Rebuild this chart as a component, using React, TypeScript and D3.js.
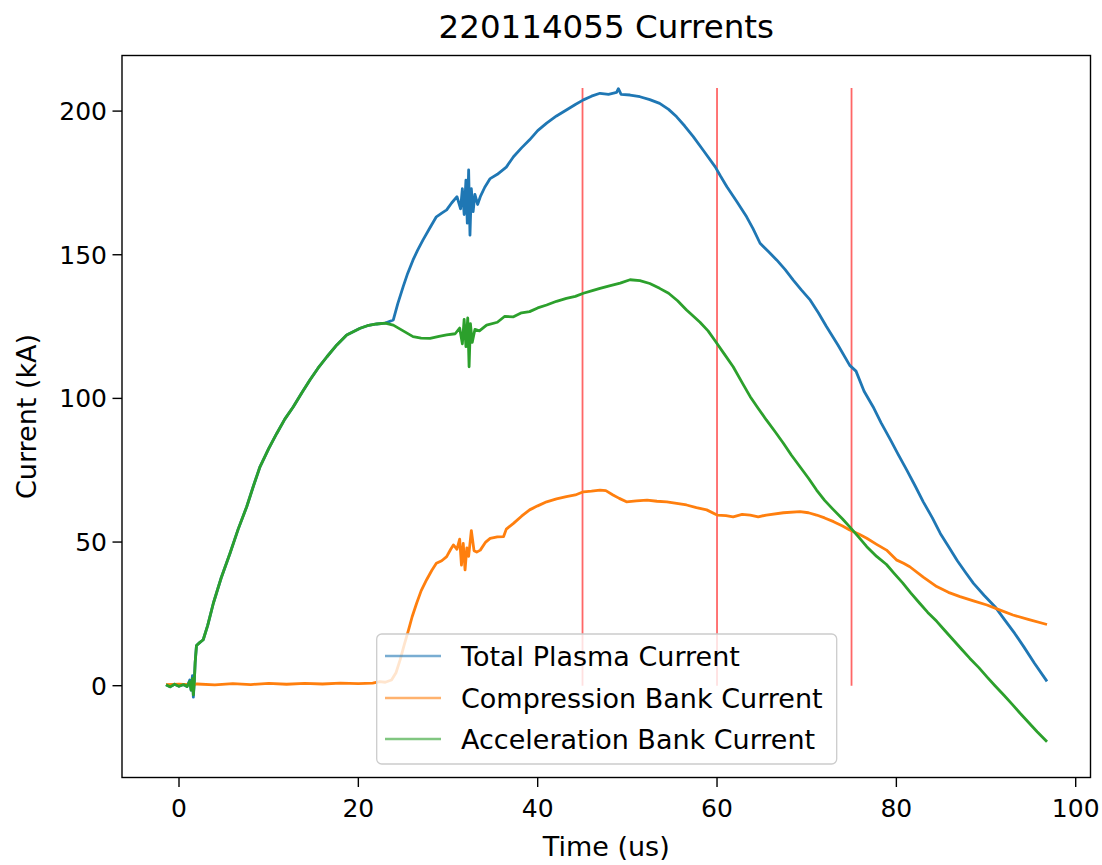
import React from "react";
import * as d3 from "d3";

const title = "220114055 Currents";
const xLabel = "Time (us)";
const yLabel = "Current (kA)";
const xTicks = [0, 20, 40, 60, 80, 100];
const yTicks = [0, 50, 100, 150, 200];
const markerTimes = [45, 60, 75];
const markerTop = 208;

const seriesNames = ["Total Plasma Current", "Compression Bank Current", "Acceleration Bank Current"];
const seriesColors = ["#1f77b4", "#ff7f0e", "#2ca02c"];

const acceleration: [number, number][] = [
  [-1.45, 0.3], [-1.0, -0.4], [-0.5, 0.5], [0, -0.2], [0.5, 0.4], [0.9, -0.3], [1.2, 1.5], [1.35, -1.5],
  [1.5, 2.5], [1.6, -3.2], [1.7, 1.0], [1.8, 8], [1.95, 14], [2.3, 15], [2.7, 16], [3.2, 21], [3.83, 28.7],
  [4.7, 37.5], [5.69, 46.1], [6.6, 54.5], [7.55, 62.3], [8.3, 69.5], [9.03, 76.2], [10.0, 82.5], [10.9, 87.8],
  [11.8, 92.8], [12.75, 97.1], [13.7, 102], [14.6, 106.4], [15.5, 110.5], [16.5, 114.5], [17.6, 118.6],
  [18.7, 122.1], [20.2, 124.4], [21.0, 125.3], [22.05, 125.9], [23.0, 126.2], [23.9, 125.5], [25.0, 123.5],
  [26.1, 121.5], [27.0, 121], [28, 120.9], [29, 121.6], [29.85, 122.1], [30.8, 122.5], [31.3, 124.5],
  [31.6, 119], [31.8, 127.5], [32.0, 118], [32.2, 128], [32.35, 111], [32.5, 126], [32.7, 119.5], [33.0, 124],
  [33.5, 123.5], [34.3, 125.5], [35.5, 126.5], [36.3, 128.5], [37.3, 128.4], [38.2, 129.8], [39.1, 130.2],
  [40.0, 131.5], [41, 132.5], [42.1, 133.8], [43.2, 134.8], [44.2, 135.5], [45.1, 136.6], [46.0, 137.4],
  [46.95, 138.3], [48.0, 139.2], [49.2, 140.1], [50.3, 141.3], [51.4, 141], [52.5, 140], [53.6, 138.3],
  [54.6, 136.6], [55.6, 134], [56.6, 130.8], [57.4, 128.5], [58.1, 126.5], [59.0, 123.5], [59.8, 120],
  [60.8, 115.5], [61.8, 111], [62.8, 105.5], [63.7, 100.6], [64.6, 96.5], [65.5, 92.5], [66.5, 88.3],
  [67.4, 84.4], [68.3, 80.2], [69.25, 76.2], [70.2, 72.2], [71.1, 68.1], [72.0, 64.5], [73, 61.2], [74.0, 58],
  [74.8, 55.3], [75.8, 51.7], [76.7, 48.4], [77.8, 45], [78.9, 42.2], [79.7, 39.3], [80.7, 35.8], [81.6, 32.3],
  [82.6, 28.7], [83.5, 25.5], [84.5, 22.4], [85.4, 19.2], [86.35, 15.9], [87.3, 12.6], [88.2, 9.5], [89.2, 6.3],
  [90.1, 3.1], [91.0, 0], [92.0, -3.3], [92.9, -6.4], [93.8, -9.6], [94.8, -13], [95.7, -16], [96.8, -19.5],
];

const totalPlasma: [number, number][] = [
  [-1.45, 0.3], [-1.0, -0.4], [-0.5, 0.5], [0, -0.2], [0.5, 0.4], [0.9, -0.3], [1.2, 2.0], [1.35, -1.5],
  [1.5, 3.5], [1.6, -4.0], [1.7, 1.0], [1.8, 8], [1.95, 14], [2.3, 15], [2.7, 16], [3.2, 21], [3.83, 28.7],
  [4.7, 37.5], [5.69, 46.1], [6.6, 54.5], [7.55, 62.3], [8.3, 69.5], [9.03, 76.2], [10.0, 82.5], [10.9, 87.8],
  [11.8, 92.8], [12.75, 97.1], [13.7, 102], [14.6, 106.4], [15.5, 110.5], [16.5, 114.5], [17.6, 118.6],
  [18.7, 122.1], [20.2, 124.4], [21.0, 125.3], [22.05, 125.9], [23.0, 126.2], [23.9, 127.3], [24.4, 133],
  [25.0, 138.9], [25.5, 143.5], [26.1, 148.2], [26.6, 151.5], [27.2, 155.1], [28.0, 159.5], [28.7, 163.2],
  [29.3, 164.5], [29.85, 165.6], [30.4, 168], [31.0, 170.2], [31.4, 166], [31.6, 173], [31.8, 164], [32.0, 176],
  [32.15, 161], [32.3, 179.5], [32.45, 156.8], [32.6, 173], [32.8, 165], [33.0, 171], [33.3, 167.5],
  [33.6, 170.2], [34.1, 173.5], [34.7, 176.5], [35.5, 178], [36.5, 180.5], [37.3, 184.1], [38.2, 187.2],
  [39.1, 190], [40.0, 193.2], [41, 195.8], [42.1, 198.3], [43.2, 200.4], [44.2, 202.3], [45.1, 203.9],
  [46.0, 205.2], [46.95, 206.2], [47.9, 205.8], [48.8, 206.5], [49.0, 207.8], [49.3, 205.8], [50.3, 205.6],
  [51.4, 205], [52.5, 204], [53.6, 202.7], [54.6, 200.6], [55.5, 198], [56.4, 194.8], [57.35, 191.1],
  [58.5, 186.2], [59.8, 180.6], [60.4, 177.3], [61.1, 173.7], [62.2, 168.5], [63.3, 163.2], [64.0, 159.2],
  [64.8, 154], [65.7, 151.2], [66.65, 148.2], [67.6, 144.8], [68.5, 141.2], [69.4, 137.8], [70.4, 134.2],
  [71.3, 129.8], [72.2, 125], [73.5, 118.5], [74.8, 111.5], [75.5, 109.5], [76.4, 102.5], [77.4, 97.1],
  [78.3, 91.5], [79.3, 85.8], [80.2, 80.5], [81.15, 75.1], [82.1, 69.5], [83.0, 64], [84.0, 58.5], [84.9, 53],
  [85.9, 48], [86.8, 43.5], [87.7, 39.5], [88.6, 35.6], [89.8, 31.4], [91, 27.5], [92.1, 22.8], [93.2, 18.2],
  [94.2, 13.6], [95.4, 7.8], [96.8, 1.5],
];

const compression: [number, number][] = [
  [-1.45, 0.4], [0, 0.5], [1.6, 0.3], [2.0, 0.6], [4, 0.3], [6, 0.7], [8, 0.4], [10, 0.8], [12, 0.5], [14, 0.8],
  [16, 0.6], [18, 0.9], [20, 0.7], [21.6, 0.9], [22.4, 1.4], [23.0, 1.2], [23.7, 2], [24.2, 4.5], [24.65, 8.9],
  [25.1, 14], [25.6, 19.4], [26.0, 24], [26.5, 28.7], [27.0, 33], [27.6, 36.8], [28.2, 40.2], [28.7, 42.6],
  [29.3, 43.5], [29.85, 44.9], [30.3, 47.5], [30.6, 49], [31.0, 47.5], [31.3, 51], [31.5, 42], [31.7, 49.5],
  [31.9, 40.3], [32.1, 48], [32.3, 45], [32.6, 54], [32.9, 47], [33.2, 46.5], [33.6, 47.2], [34.2, 50],
  [34.7, 51.3], [35.5, 51.8], [36.2, 51.9], [36.5, 54.5], [37.3, 56.5], [38.2, 59], [39.1, 61.2], [40.0, 62.6],
  [41, 64], [42.1, 65], [43.2, 65.8], [44.2, 66.4], [45.1, 67.5], [46.0, 67.7], [46.95, 68.1], [47.6, 67.9],
  [48.4, 66.4], [49.1, 65.2], [49.9, 64], [51.0, 64.3], [52.2, 64.6], [53.3, 64.2], [54.4, 64], [55.5, 63.5],
  [56.6, 62.9], [57.7, 62], [58.85, 61.2], [60, 59.4], [61.0, 59.2], [61.8, 58.8], [62.8, 59.6], [63.7, 59.4],
  [64.6, 58.8], [65.5, 59.4], [67.4, 60.2], [69.25, 60.6], [70.2, 60.2], [71.1, 59.4], [72.0, 58.4], [73, 57.1],
  [74.0, 55.6], [74.8, 54.2], [75.8, 52.8], [76.7, 51.3], [77.8, 49.2], [78.9, 47.2], [80, 43.8], [80.8, 42.6],
  [81.5, 41.4], [83.0, 37.8], [84.5, 34.5], [85.8, 32.5], [87.1, 31], [88.6, 29.5], [90.1, 28.1], [91.5, 26.4],
  [93, 24.6], [94.8, 23], [96.8, 21.3],
];

const W = 1102;
const H = 865;
const plot = { left: 122, right: 1090.5, top: 55.5, bottom: 777.5 };
const FONT = "'DejaVu Sans', sans-serif";

export default function App() {
  const x = d3.scaleLinear().domain([-6.357, 101.65]).range([plot.left, plot.right]);
  const y = d3.scaleLinear().domain([-31.95, 219.35]).range([plot.bottom, plot.top]);
  const line = d3
    .line<[number, number]>()
    .x((d) => x(d[0]))
    .y((d) => y(d[1]));

  const series = [totalPlasma, compression, acceleration];
  const legend = { x: 376.7, y: 634, w: 460, h: 130 };
  const rowY = [656, 698, 739];

  return (
    <svg width={W} height={H} style={{ display: "block", position: "absolute", left: 0, top: 0 }} fontFamily={FONT}>
      <rect x={0} y={0} width={W} height={H} fill="#ffffff" />
      <text x={(plot.left + plot.right) / 2} y={38} textAnchor="middle" fontSize={32.5} fill="#000">
        {title}
      </text>
      <defs>
        <clipPath id="plotclip">
          <rect x={plot.left} y={plot.top} width={plot.right - plot.left} height={plot.bottom - plot.top} />
        </clipPath>
      </defs>
      <g clipPath="url(#plotclip)">
        {markerTimes.map((t) => (
          <line key={t} x1={x(t)} x2={x(t)} y1={y(0)} y2={y(markerTop)} stroke="#ff0000" strokeOpacity={0.6} strokeWidth={1.8} />
        ))}
        {series.map((s, i) => (
          <path key={i} d={line(s) || ""} fill="none" stroke={seriesColors[i]} strokeWidth={2.8} strokeLinejoin="round" />
        ))}
      </g>
      <rect
        x={plot.left}
        y={plot.top}
        width={plot.right - plot.left}
        height={plot.bottom - plot.top}
        fill="none"
        stroke="#000"
        strokeWidth={1.4}
      />
      {xTicks.map((t) => (
        <g key={"x" + t}>
          <line x1={x(t)} x2={x(t)} y1={plot.bottom} y2={plot.bottom + 9.5} stroke="#000" strokeWidth={1.4} />
          <text x={x(t)} y={817} textAnchor="middle" fontSize={25} fill="#000">
            {t}
          </text>
        </g>
      ))}
      {yTicks.map((t) => (
        <g key={"y" + t}>
          <line x1={plot.left - 9.5} x2={plot.left} y1={y(t)} y2={y(t)} stroke="#000" strokeWidth={1.4} />
          <text x={107} y={y(t)} dy="0.36em" textAnchor="end" fontSize={25} fill="#000">
            {t}
          </text>
        </g>
      ))}
      <text x={(plot.left + plot.right) / 2} y={856} textAnchor="middle" fontSize={27} fill="#000">
        {xLabel}
      </text>
      <text
        transform={`translate(36, ${(plot.top + plot.bottom) / 2}) rotate(-90)`}
        textAnchor="middle"
        fontSize={27}
        fill="#000"
      >
        {yLabel}
      </text>
      <rect
        x={legend.x}
        y={legend.y}
        width={legend.w}
        height={legend.h}
        rx={5}
        fill="#ffffff"
        fillOpacity={0.8}
        stroke="#cccccc"
        strokeWidth={1.3}
      />
      {seriesNames.map((name, i) => (
        <g key={name}>
          <line x1={385} x2={441} y1={rowY[i]} y2={rowY[i]} stroke={seriesColors[i]} strokeOpacity={0.6} strokeWidth={2.6} />
          <text x={461} y={rowY[i]} dy="0.36em" fontSize={27} fill="#000">
            {name}
          </text>
        </g>
      ))}
    </svg>
  );
}
